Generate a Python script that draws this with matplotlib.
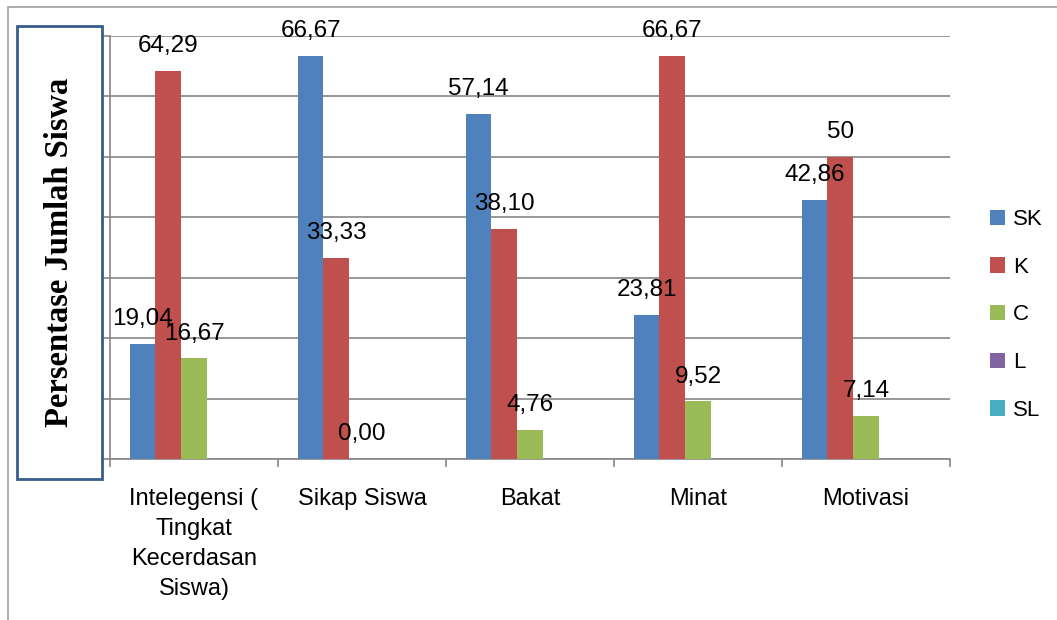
import numpy as np
import matplotlib
matplotlib.use('Agg')
import matplotlib.pyplot as plt
from matplotlib.patches import Rectangle

# Data
categories = ['Intelegensi (\nTingkat\nKecerdasan\nSiswa)', 'Sikap Siswa', 'Bakat', 'Minat', 'Motivasi']
series_names = ['SK', 'K', 'C', 'L', 'SL']
sk = [19.04, 66.67, 57.14, 23.81, 42.86]
k = [64.29, 33.33, 38.10, 66.67, 50]
c = [16.67, 0.00, 4.76, 9.52, 7.14]
l = [0, 0, 0, 0, 0]
sl = [0, 0, 0, 0, 0]
sk_labels = ['19,04', '66,67', '57,14', '23,81', '42,86']
k_labels = ['64,29', '33,33', '38,10', '66,67', '50']
c_labels = ['16,67', '0,00', '4,76', '9,52', '7,14']

colors = ['#4F81BD', '#C0504D', '#9BBB59', '#8064A2', '#4BACC6']
plt.rcParams['font.family'] = ['Liberation Sans', 'DejaVu Sans']

fig = plt.figure(figsize=(10.57, 6.2), dpi=100)
ax = fig.add_axes([110 / 1057, 1 - 459 / 620, 840 / 1057, 423 / 620])

x = np.arange(len(categories))
w = 0.153
all_vals = [sk, k, c, l, sl]
all_labels = [sk_labels, k_labels, c_labels, None, None]
for i, (vals, name) in enumerate(zip(all_vals, series_names)):
    bars = ax.bar(x + (i - 2) * w, vals, w, color=colors[i], label=name, zorder=3)
    if all_labels[i] is not None:
        for b, txt in zip(bars, all_labels[i]):
            ax.annotate(txt, (b.get_x() + b.get_width() / 2, b.get_height()),
                        xytext=(0, 13.5), textcoords='offset points',
                        ha='center', va='baseline', fontsize=17.5, zorder=4)

ax.set_xlim(-0.5, len(categories) - 0.5)
ax.set_ylim(0, 70)
ax.set_yticks(np.arange(0, 71, 10))
ax.set_yticklabels([])
ax.grid(axis='y', color='#868686', linewidth=1.2, zorder=0)
ax.set_axisbelow(True)

ax.set_xticks(x)
ax.set_xticklabels(categories, fontsize=17, linespacing=1.47)
ax.tick_params(axis='x', which='major', length=0, pad=21)
ax.set_xticks(np.arange(-0.5, len(categories)), minor=True)
ax.tick_params(axis='x', which='minor', length=6, color='#868686', width=1.2)
ax.tick_params(axis='y', length=6, color='#868686', width=1.2)

for side in ['top', 'right']:
    ax.spines[side].set_visible(False)
for side in ['left', 'bottom']:
    ax.spines[side].set_color('#868686')
    ax.spines[side].set_linewidth(1.2)

# outer frame
fig.add_artist(Rectangle((8 / 1057, -0.1), 1.2, 1 - 7 / 620 + 0.1, transform=fig.transFigure,
                         facecolor='none', edgecolor='#a0a0a0', linewidth=1.2, zorder=0))

# y-axis title box
fig.add_artist(Rectangle((17 / 1057, 1 - 479 / 620), 85 / 1057, 453 / 620, transform=fig.transFigure,
                         facecolor='white', edgecolor='#385D8A', linewidth=2, zorder=5))
fig.text(59.5 / 1057, 1 - 252 / 620, 'Persentase Jumlah Siswa', rotation=90,
         ha='center', va='center', fontsize=23.5, fontweight='bold',
         family=['Liberation Serif', 'DejaVu Serif'], zorder=6)

fig.legend(loc='center left', bbox_to_anchor=(990 / 1057, 1 - 315 / 620), frameon=False,
           fontsize=16, handlelength=0.68, handleheight=0.68, handletextpad=0.35,
           labelspacing=1.2, borderpad=0, borderaxespad=0)

fig.savefig('out.png', dpi=100)
